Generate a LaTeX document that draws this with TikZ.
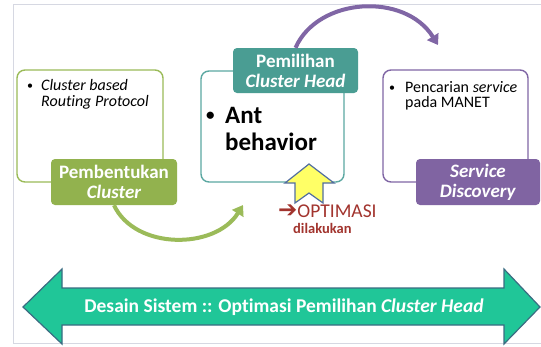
\documentclass[tikz,border=0pt]{standalone}
\usepackage{fontspec}
\setmainfont[Ligatures=NoCommon]{Carlito}
\newfontfamily\symfont{DejaVu Sans}
\usetikzlibrary{arrows.meta}

\definecolor{frameGray}{RGB}{214,216,226}
\definecolor{olive}{RGB}{155,187,89}
\definecolor{oliveDark}{RGB}{146,178,78}
\definecolor{tealLine}{RGB}{92,168,162}
\definecolor{tealFill}{RGB}{74,157,147}
\definecolor{purpLine}{RGB}{128,102,165}
\definecolor{purpFill}{RGB}{128,100,162}
\definecolor{optRed}{RGB}{162,52,46}
\definecolor{bandFill}{RGB}{32,198,152}
\definecolor{bandLine}{RGB}{58,108,130}
\definecolor{hintFill}{RGB}{255,255,102}
\definecolor{hintLine}{RGB}{82,110,160}

% small list bullet: size of the dot, lift above the baseline
\newcommand\listdot[2]{\raisebox{#2}{\fontsize{#1}{#1}\selectfont •}}

\tikzset{
  stagebox/.style={draw=#1, line width=1.4pt, rounded corners=8pt, fill=white, inner sep=0pt},
  stagelabel/.style={fill=#1, rounded corners=4pt, text=white, align=center, inner sep=0pt,
    font=\fontsize{19}{20}\selectfont\bfseries},
  bullettext/.style={anchor=north west, inner sep=0pt, align=left, text=black},
  flowarc/.style={line width=4pt, draw=#1, -{Triangle[length=10pt,width=13pt]}},
}

\begin{document}
\begin{tikzpicture}[x=1pt,y=-1pt]
\useasboundingbox (0,0) rectangle (541,346);
\fill[white] (0,0) rectangle (541,346);

% slide frame
\draw[frameGray, line width=1pt] (541,4.5) -- (13.5,4.5) -- (13.5,343) -- (541,343);

% stage boxes
\node[stagebox=olive, minimum width=146pt, minimum height=112pt] (formBox) at (90,126) {};
\node[stagebox=tealLine, minimum width=143pt, minimum height=111pt] (headBox) at (272.5,126.5) {};
\node[stagebox=purpLine, minimum width=145pt, minimum height=112pt] (discBox) at (455.5,126) {};

% box contents
\node[bullettext, font=\fontsize{16}{16}\selectfont] (formText) at (27,79)
  {\makebox[14pt][l]{\listdot{12}{1.2pt}}\textit{Cluster based}\\\hspace*{14pt}\textit{Routing Protocol}};
\node[bullettext, font=\fontsize{25}{27}\selectfont\bfseries] (headText) at (206,107)
  {\makebox[19pt][l]{\listdot{17}{2.8pt}}Ant\\\hspace*{19pt}behavior};
\node[bullettext, font=\fontsize{16}{15}\selectfont] (discText) at (389,81)
  {\makebox[16pt][l]{\listdot{12}{1.2pt}}Pencarian \textit{service}\\\hspace*{16pt}pada MANET};

% stage labels
\node[stagelabel=oliveDark, minimum width=126pt, minimum height=46pt] (formLbl) at (114,182)
  {Pembentukan\\\textit{Cluster}};
\node[stagelabel=tealFill, minimum width=125pt, minimum height=45pt] (headLbl) at (295.5,70.5)
  {Pemilihan\\\textit{Cluster Head}};
\node[stagelabel=purpFill, minimum width=124pt, minimum height=46pt] (discLbl) at (478,182)
  {\textit{Service}\\\textit{Discovery}};

% flow arcs
\coordinate (discIn) at (438,45);
\coordinate (headIn) at (243,205);
\draw[flowarc=purpLine] (headLbl.north) .. controls (318,-3) and (405,-8) .. (discIn);
\draw[flowarc=olive] (formLbl.south) .. controls (135,250) and (215,250) .. (headIn);

% optimisation marker
\draw[fill=hintFill, draw=hintLine, line width=1.2pt, line join=miter]
  (309,164) -- (334,183) -- (323,183) -- (323,203) -- (309,193) -- (295,203)
  -- (295,183) -- (285,183) -- cycle;
\node[anchor=base west, inner sep=0pt, text=optRed, font=\fontsize{19.5}{20}\selectfont] (opt) at (278,217)
  {{\symfont\bfseries\fontsize{23}{23}\selectfont ➔}OPTIMASI};
\node[anchor=base west, inner sep=0pt, text=optRed, font=\fontsize{14.5}{15}\selectfont\bfseries] (optSub) at (293,233)
  {dilakukan};

% design band
\draw[fill=bandFill, draw=bandLine, line width=1.2pt, line join=miter]
  (23,307) -- (62,269) -- (62,288) -- (504,288) -- (504,269) -- (540,307)
  -- (504,344) -- (504,325) -- (62,325) -- (62,344) -- cycle;
\node[inner sep=0pt, text=white, font=\fontsize{19.5}{20}\selectfont\bfseries] (bandText) at (284,307)
  {Desain Sistem :: Optimasi Pemilihan \textit{Cluster Head}};
\end{tikzpicture}
\end{document}
